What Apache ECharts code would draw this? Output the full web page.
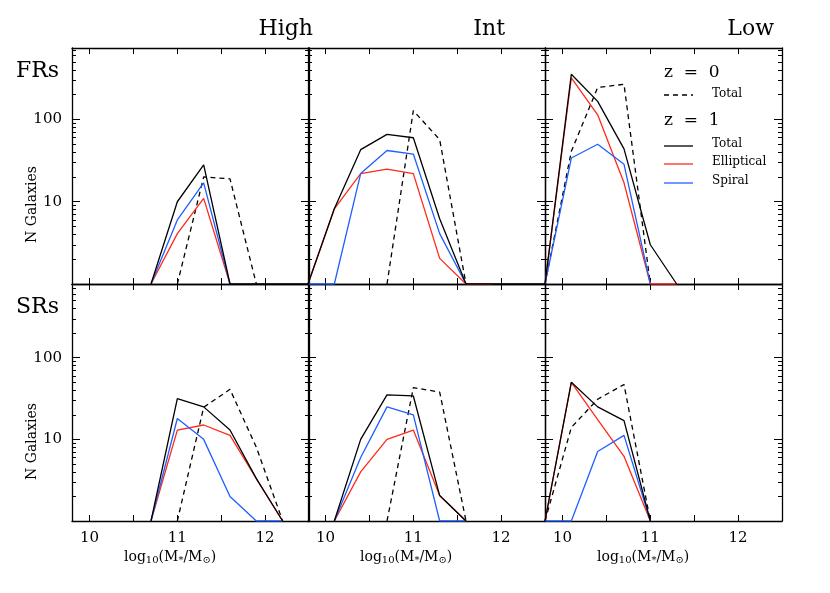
<!DOCTYPE html>
<html>
<head>
<meta charset="utf-8">
<script src="https://cdn.jsdelivr.net/npm/echarts@6/dist/echarts.min.js"></script>
<style>
  html, body { margin: 0; padding: 0; background: #fff; }
  #main { width: 830px; height: 593px; }
</style>
</head>
<body>
<div id="main"></div>
<script>
// mass bins, log10(M*/Msun)
var bins = [9.8, 10.1, 10.4, 10.7, 11.0, 11.3, 11.6, 11.9, 12.2, 12.5];
var xTicks = [10, 10.5, 11, 11.5, 12];
var xLabels = [10, 11, 12];
var yTicks = [10, 100];
var columnNames = ['High', 'Int', 'Low'];
var rowNames = ['FRs', 'SRs'];

// values of 1 sit on the bottom axis (empty bins); null = not drawn
// FRs
var highFR_total0 = [null, null, null, null, 1, 20, 19, 1, null, null];
var highFR_total1 = [null, null, null, 1, 10, 28, 1, 1, 1, 1];
var highFR_ell    = [null, null, null, 1, 4.1, 11, 1, null, null, null];
var highFR_spi    = [null, null, null, 1, 6, 17, 1, null, null, null];

var intFR_total0 = [null, null, null, 1, 128, 57, 1, null, null, null];
var intFR_total1 = [1, 8.2, 43, 66, 60, 6.2, 1, 1, 1, 1];
var intFR_ell    = [1, 8.2, 22, 25, 22, 2.05, 1, 1, null, null];
var intFR_spi    = [1, 1, 22, 42, 38, 4.1, 1, null, null, null];

var lowFR_total0 = [1, 41, 245, 268, 1, null, null, null, null, null];
var lowFR_total1 = [1, 355, 166, 44, 3.0, 1, null, null, null, null];
var lowFR_ell    = [1, 320, 114, 17, 1, 1, null, null, null, null];
var lowFR_spi    = [1, 34, 50, 28.5, 1, null, null, null, null, null];

// SRs
var highSR_total0 = [null, null, null, null, 1, 24.7, 41, 8, 1, null];
var highSR_total1 = [null, null, null, 1, 31.5, 25, 13, 3.3, 1, null];
var highSR_ell    = [null, null, null, 1, 13, 15, 11.2, 3.3, 1, null];
var highSR_spi    = [null, null, null, 1, 18, 10, 2.0, 1, 1, null];

var intSR_total0 = [null, null, null, 1, 43, 38, 1, null, null, null];
var intSR_total1 = [null, 1, 10, 35, 34, 2.05, 1, null, null, null];
var intSR_ell    = [null, 1, 4, 10, 13, 2.05, 1, null, null, null];
var intSR_spi    = [null, 1, 6, 25, 20, 1, 1, null, null, null];

var lowSR_total0 = [1, 14, 31, 47, 1, null, null, null, null, null];
var lowSR_total1 = [1, 50, 25, 17, 1, null, null, null, null, null];
var lowSR_ell    = [1, 50, 17.5, 6.2, 1, null, null, null, null, null];
var lowSR_spi    = [1, 1, 7.1, 11.2, 1, null, null, null, null, null];

var panels = [
  [highFR_total0, highFR_total1, highFR_ell, highFR_spi],
  [intFR_total0, intFR_total1, intFR_ell, intFR_spi],
  [lowFR_total0, lowFR_total1, lowFR_ell, lowFR_spi],
  [highSR_total0, highSR_total1, highSR_ell, highSR_spi],
  [intSR_total0, intSR_total1, intSR_ell, intSR_spi],
  [lowSR_total0, lowSR_total1, lowSR_ell, lowSR_spi]
];

var FONT = 'DejaVu Serif';
var colLeft = [72, 308, 545];
var colWidth = 237;
var rowTop = [48, 284];
var rowHeight = [236, 237];
var rowMax = [740, 800];

var chart = echarts.init(document.getElementById('main'));

var grids = [], xAxes = [], yAxes = [], series = [];
var tickLine = { color: '#000', width: 1 };

function pairs(arr) {
  var out = [];
  arr.forEach(function (v, i) { if (v !== null) out.push([bins[i], v]); });
  return out;
}

for (var r = 0; r < 2; r++) {
  for (var c = 0; c < 3; c++) {
    var g = r * 3 + c;
    grids.push({ left: colLeft[c], top: rowTop[r], width: colWidth, height: rowHeight[r] });
    var showX = r === 1;
    var showY = c === 0;
    // bottom + top x axes
    ['bottom', 'top'].forEach(function (pos) {
      xAxes.push({
        type: 'value', gridIndex: g, position: pos, min: 9.8, max: 12.5,
        axisLine: { show: true, onZero: false, lineStyle: { color: '#000', width: 1.3 } },
        axisTick: { show: true, inside: true, length: 6, lineStyle: tickLine, customValues: xTicks },
        splitLine: { show: false },
        axisLabel: {
          show: pos === 'bottom' && showX, color: '#000', fontFamily: FONT, fontSize: 15, margin: 10,
          customValues: xLabels
        }
      });
    });
    ['left', 'right'].forEach(function (pos) {
      yAxes.push({
        type: 'log', gridIndex: g, position: pos, min: 1, max: rowMax[r], logBase: 10,
        axisLine: { show: true, onZero: false, lineStyle: { color: '#000', width: 1.3 } },
        axisTick: { show: true, inside: true, length: 8, lineStyle: tickLine },
        minorTick: { show: true, splitNumber: 9, length: 4, lineStyle: tickLine },
        splitLine: { show: false },
        axisLabel: {
          show: pos === 'left' && showY, color: '#000', fontFamily: FONT, fontSize: 15, margin: 10,
          formatter: function (v) { return yTicks.indexOf(Math.round(v)) >= 0 ? String(Math.round(v)) : ''; }
        }
      });
    });
    var styles = [
      { color: '#000', type: [5, 4] },
      { color: '#000', type: 'solid' },
      { color: '#ff2a1a', type: 'solid' },
      { color: '#1f5fff', type: 'solid' }
    ];
    panels[g].forEach(function (arr, k) {
      series.push({
        type: 'line', xAxisIndex: g * 2, yAxisIndex: g * 2, data: pairs(arr),
        symbol: 'none', animation: false, silent: true, clip: true,
        z: 3 - (k === 1 ? 0 : 1),
        lineStyle: { color: styles[k].color, type: styles[k].type, width: 1.3 }
      });
    });
  }
}

var textStyle = function (txt, size) { return { text: txt, font: size + 'px "' + FONT + '"', fill: '#000' }; };
var graphics = [];
columnNames.forEach(function (n, c) {
  graphics.push({ type: 'text', right: 830 - (colLeft[c] + colWidth) + (c === 0 ? -4 : (c === 1 ? 40 : 8)), top: 18, style: textStyle(n, 22) });
});
rowNames.forEach(function (n, r) {
  graphics.push({ type: 'text', left: 16, top: rowTop[r] + 12, style: textStyle(n, 22) });
});
[166, 403].forEach(function (y) {
  graphics.push({ type: 'text', left: 25, top: y, rotation: Math.PI / 2, style: textStyle('N Galaxies', 14) });
});
colLeft.forEach(function (x) {
  graphics.push({ type: 'text', left: x + 52, top: 550, style: { rich: {
      b: { font: '14px "' + FONT + '"', fill: '#000' },
      s: { font: '10px "' + FONT + '"', fill: '#000', verticalAlign: 'bottom', padding: [6, 0, 0, 0] }
    }, text: '{b|log}{s|10}{b|(M}{s|*}{b|/M}{s|⊙}{b|)}' } });
});
// legend in FRs/Low panel
graphics.push({ type: 'text', left: 664, top: 64, style: textStyle('z  =  0', 17) });
graphics.push({ type: 'line', shape: { x1: 664, y1: 95, x2: 693, y2: 95 }, style: { stroke: '#000', lineWidth: 1.3, lineDash: [5, 4] } });
graphics.push({ type: 'text', left: 712, top: 88, style: textStyle('Total', 12) });
graphics.push({ type: 'text', left: 664, top: 112, style: textStyle('z  =  1', 17) });
[['Total', '#000', 146], ['Elliptical', '#ff2a1a', 164], ['Spiral', '#1f5fff', 183]].forEach(function (l) {
  graphics.push({ type: 'line', shape: { x1: 664, y1: l[2], x2: 693, y2: l[2] }, style: { stroke: l[1], lineWidth: 1.3 } });
  graphics.push({ type: 'text', left: 712, top: l[2] - 8, style: textStyle(l[0], 12) });
});

chart.setOption({
  backgroundColor: '#fff',
  animation: false,
  grid: grids,
  xAxis: xAxes,
  yAxis: yAxes,
  series: series,
  graphic: graphics
});
</script>
</body>
</html>
